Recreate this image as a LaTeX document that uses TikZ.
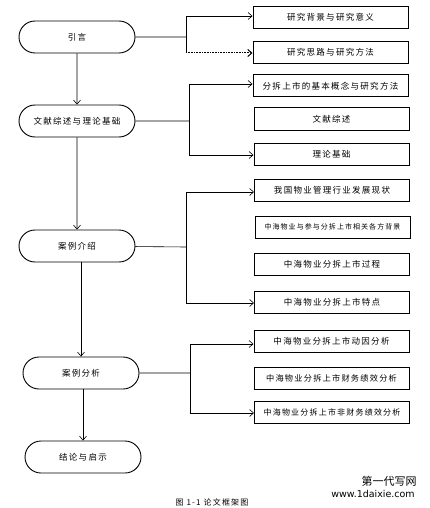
\documentclass[tikz,border=0pt]{standalone}
\usepackage{fontspec}
\setmainfont{Noto Sans CJK SC}
\newfontfamily\cjk[LetterSpace=15]{Noto Sans CJK SC}
\newfontfamily\wmfont{DejaVu Sans}
\usetikzlibrary{shapes.misc,arrows.meta}
\tikzstyle{st}=[rounded rectangle,draw=black,line width=0.9pt,
  minimum width=120pt,minimum height=32pt,inner sep=2pt,font=\cjk\fontsize{8.5}{10}\selectfont]
\tikzstyle{bx}=[rectangle,draw=black,line width=1pt,
  minimum width=155pt,minimum height=22pt,inner sep=2pt,font=\cjk\fontsize{8.5}{10}\selectfont]
\tikzstyle{ln}=[line width=0.6pt]
\tikzstyle{ar}=[line width=0.6pt,-{Straight Barb[length=4pt,width=7pt]}]

\begin{document}
\begin{tikzpicture}[x=1pt,y=-1pt]
        \useasboundingbox (0,0) rectangle (429,508);
        \node [style=st] (yy) at (77,37) {引言};
        \node [style=st] (wx) at (77,121) {文献综述与理论基础};
        \node [style=st] (al) at (77,246) {案例介绍};
        \node [style=st] (af) at (81,373) {案例分析};
        \node [style=st] (jl) at (83,457) {结论与启示};
        \node [style=bx] (b1) at (330.5,17.5) {研究背景与研究意义};
        \node [style=bx] (b2) at (330.5,52.5) {研究思路与研究方法};
        \node [style=bx] (b3) at (330.5,86) {分拆上市的基本概念与研究方法};
        \node [style=bx] (b4) at (331.5,119) {文献综述};
        \node [style=bx] (b5) at (331.5,154) {理论基础};
        \node [style=bx] (c1) at (332,190.5) {我国物业管理行业发展现状};
        \node [style=bx,font=\cjk\fontsize{7}{9}\selectfont] (c2) at (332.5,227) {中海物业与参与分拆上市相关各方背景};
        \node [style=bx] (c3) at (332,264) {中海物业分拆上市过程};
        \node [style=bx] (c4) at (332,302) {中海物业分拆上市特点};
        \node [style=bx] (d1) at (331.5,341.5) {中海物业分拆上市动因分析};
        \node [style=bx,font=\cjk\fontsize{8.2}{10}\selectfont] (d2) at (331.5,378) {中海物业分拆上市财务绩效分析};
        \node [style=bx,font=\cjk\fontsize{8}{10}\selectfont] (d3) at (332,412) {中海物业分拆上市非财务绩效分析};
        \coordinate (j1) at (186,37);
        \coordinate (j1t) at (186,16);
        \coordinate (j1b) at (186,53);
        \coordinate (j2) at (189,121);
        \coordinate (j2t) at (189,84);
        \coordinate (j2b) at (189,155);
        \coordinate (j3) at (186,247);
        \coordinate (j3t) at (186,192);
        \coordinate (j3b) at (186,303);
        \coordinate (j4) at (190,373);
        \coordinate (j4t) at (190,344);
        \coordinate (j4b) at (190,413);
        \draw [style=ar] (yy) to (wx);
        \draw [style=ar] (wx) to (al);
        \draw [style=ar] (af.north |- al.south) to (af.north);
        \draw [style=ar] (jl.north |- af.south) to (jl.north);
        \draw [style=ln] (yy) to (j1);
        \draw [style=ln] (j1t) to (j1b);
        \draw [style=ar] (j1t) to (j1t -| b1.west);
        \draw [style=ar,dash pattern=on 1pt off 0.6pt,line width=1pt] (j1b) to (j1b -| b2.west);
        \draw [style=ln] (wx) to (j2);
        \draw [style=ln] (j2t) to (j2b);
        \draw [style=ar] (j2t) to (j2t -| b3.west);
        \draw [style=ar] (j2b) to (j2b -| b5.west);
        \draw [style=ln] (al) to (j3);
        \draw [style=ln] (j3t) to (j3b);
        \draw [style=ar] (j3t) to (j3t -| c1.west);
        \draw [style=ar] (j3b) to (j3b -| c4.west);
        \draw [style=ln] (af) to (j4);
        \draw [style=ln] (j4t) to (j4b);
        \draw [style=ar] (j4t) to (j4t -| d1.west);
        \draw [style=ar] (j4b) to (j4b -| d3.west);
        \node [font=\cjk\fontsize{8}{10}\selectfont] (cap) at (212,502) {图 1-1 论文框架图};
        \node [font=\fontsize{11}{12}\selectfont] (wm1) at (389,481) {第一代写网};
        \node [font=\wmfont\fontsize{9.5}{11}\selectfont] (wm2) at (373,494) {www.1daixie.com};
    \end{tikzpicture}
\end{document}
